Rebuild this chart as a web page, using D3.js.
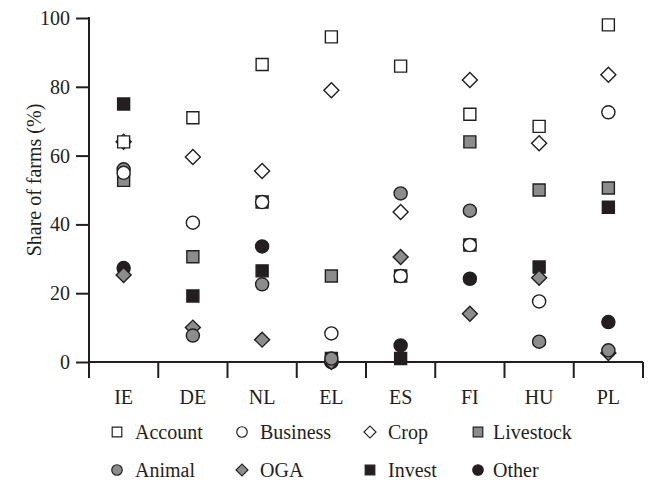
<!DOCTYPE html>
<html>
<head>
<meta charset="utf-8">
<script src="https://cdn.jsdelivr.net/npm/d3@7"></script>
<style>
  body { margin: 0; background: #fff; }
  svg text { font-family: "Liberation Serif", "DejaVu Serif", serif; fill: #231f20; }
</style>
</head>
<body>
<div class="chart"></div>
<script>
var countries = ['IE', 'DE', 'NL', 'EL', 'ES', 'FI', 'HU', 'PL'];
var account   = [64, 71, 86.5, 94.5, 86, 72, 68.5, 98];
var business  = [55, 40.5, 46.5, 8.3, 25, 34, 17.6, 72.6];
var crop      = [64, 59.6, 55.5, 79, 43.6, 82, 63.6, 83.5];
var livestock = [52.8, 30.6, 46.5, 25, 25, 64, 50, 50.6];
var animal    = [56, 7.7, 22.6, 1, 49, 44, 5.9, 3.4];
var oga       = [25.3, 10, 6.5, 0, 30.5, 14, 24.5, 2.6];
var invest    = [75, 19.2, 26.5, 1, 1, 34, 27.6, 45];
var other     = [27.3, null, 33.6, 0, 4.8, 24.2, null, 11.6];
var yTicks = [0, 20, 40, 60, 80, 100];

var GRAY = '#8c8c8c', DARK = '#231f20';
var FONT = '"Liberation Serif", "DejaVu Serif", serif';

// legend order
var series = [
  { name: 'Account',   values: account,   shape: 'square',  fill: '#fff' },
  { name: 'Business',  values: business,  shape: 'circle',  fill: '#fff' },
  { name: 'Crop',      values: crop,      shape: 'diamond', fill: '#fff' },
  { name: 'Livestock', values: livestock, shape: 'square',  fill: GRAY },
  { name: 'Animal',    values: animal,    shape: 'circle',  fill: GRAY },
  { name: 'OGA',       values: oga,       shape: 'diamond', fill: GRAY },
  { name: 'Invest',    values: invest,    shape: 'square',  fill: DARK },
  { name: 'Other',     values: other,     shape: 'circle',  fill: DARK }
];
// order the marks are stacked in the plot (last on top)
var drawOrder = ['Other', 'Crop', 'Account', 'Livestock', 'Invest', 'OGA', 'Animal', 'Business'];

function symbolPath(shape, k) {
  if (shape == 'square') return d3.symbol(d3.symbolSquare, 144 * k * k)();
  if (shape == 'circle') return d3.symbol(d3.symbolCircle, 135 * k * k)();
  return d3.symbol(d3.symbolSquare, 112 * k * k)();
}

var svg = d3.select('.chart').append('svg')
  .attr('width', 653)
  .attr('height', 481);

var x = d3.scaleBand().domain(countries).range([89, 643]);
var y = d3.scaleLinear().domain([0, 100]).range([362, 18]);

// y axis
var yAxis = svg.append('g')
  .attr('transform', 'translate(89,0)')
  .call(d3.axisLeft(y).tickValues(yTicks).tickSize(13).tickPadding(6).tickSizeOuter(0));
yAxis.attr('font-family', FONT);
yAxis.select('.domain').remove();
yAxis.selectAll('line').attr('stroke', DARK).attr('stroke-width', 2);
yAxis.selectAll('text').style('font-size', '20px').attr('fill', DARK);

svg.append('line')
  .attr('x1', 89).attr('x2', 89)
  .attr('y1', y(100) - 1).attr('y2', 378)
  .attr('stroke', DARK).attr('stroke-width', 2);

// x axis: baseline, boundary ticks, labels
svg.append('line')
  .attr('x1', 88).attr('x2', 643)
  .attr('y1', y(0)).attr('y2', y(0))
  .attr('stroke', DARK).attr('stroke-width', 2);

svg.append('g')
  .selectAll('line')
  .data(countries)
  .enter().append('line')
  .attr('x1', function(d) { return x(d) + x.bandwidth(); })
  .attr('x2', function(d) { return x(d) + x.bandwidth(); })
  .attr('y1', y(0))
  .attr('y2', 378)
  .attr('stroke', DARK).attr('stroke-width', 2);

svg.append('g')
  .selectAll('text')
  .data(countries)
  .enter().append('text')
  .attr('x', function(d) { return x(d) + x.bandwidth() / 2; })
  .attr('y', 404)
  .attr('text-anchor', 'middle')
  .style('font-size', '20px')
  .text(function(d) { return d; });

svg.append('text')
  .attr('transform', 'translate(41,180) rotate(-90)')
  .attr('text-anchor', 'middle')
  .style('font-size', '20px')
  .text('Share of farms (%)');

// points
drawOrder.forEach(function(name) {
  var s = series.filter(function(d) { return d.name == name; })[0];
  var pts = countries.map(function(c, i) { return { c: c, v: s.values[i] }; })
    .filter(function(d) { return d.v != null; });
  svg.append('g')
    .attr('class', 'series')
    .selectAll('path')
    .data(pts)
    .enter().append('path')
    .attr('d', symbolPath(s.shape, 1))
    .attr('transform', function(d) {
      return 'translate(' + (x(d.c) + x.bandwidth() / 2) + ',' + y(d.v) + ')' +
        (s.shape == 'diamond' ? ' rotate(45)' : '');
    })
    .attr('fill', s.fill)
    .attr('stroke', DARK)
    .attr('stroke-width', 1.4);
});

// legend
var legendX = [117, 242, 370, 478];
var legendY = [432, 470];
var legend = svg.append('g')
  .selectAll('g')
  .data(series)
  .enter().append('g')
  .attr('transform', function(d, i) {
    return 'translate(' + legendX[i % 4] + ',' + legendY[Math.floor(i / 4)] + ')';
  });
legend.append('path')
  .attr('d', function(d) { return symbolPath(d.shape, 0.8); })
  .attr('transform', function(d) { return d.shape == 'diamond' ? 'rotate(45)' : null; })
  .attr('fill', function(d) { return d.fill; })
  .attr('stroke', DARK)
  .attr('stroke-width', 1.2);
legend.append('text')
  .attr('x', function(d, i) { return [18, 18, 18, 15][i % 4]; })
  .attr('y', 7)
  .style('font-size', '20px')
  .text(function(d) { return d.name; });
</script>
</body>
</html>
